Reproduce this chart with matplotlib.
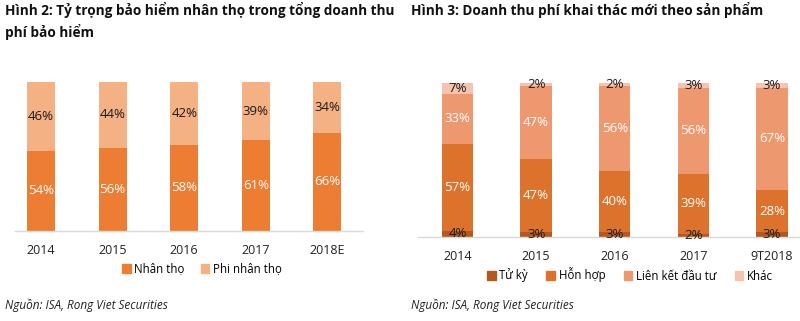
import matplotlib
matplotlib.use("Agg")
import matplotlib.pyplot as plt
from matplotlib.patches import Patch

plt.rcParams['font.family'] = ['Open Sans', 'DejaVu Sans']

# Hinh 2 data
years2 = ['2014', '2015', '2016', '2017', '2018E']
nhan_tho = [54, 56, 58, 61, 66]
phi_nhan_tho = [46, 44, 42, 39, 34]

# Hinh 3 data
years3 = ['2014', '2015', '2016', '2017', '9T2018']
tu_ky = [4, 3, 3, 2, 3]
hon_hop = [57, 47, 40, 39, 28]
lien_ket = [33, 47, 56, 56, 67]
khac = [7, 2, 2, 3, 3]

W, H = 800, 321
fig = plt.figure(figsize=(8, 3.21), dpi=100)

def px_axes(x0, x1, ybase, ytop):
    return fig.add_axes([x0 / W, 1 - ybase / H, (x1 - x0) / W, (ybase - ytop) / H])

def style(ax, xlim):
    ax.set_xlim(*xlim)
    ax.set_ylim(0, 100)
    for s in ['top', 'right', 'left']:
        ax.spines[s].set_visible(False)
    ax.spines['bottom'].set_color('#d9d9d9')
    ax.spines['bottom'].set_linewidth(1)
    ax.set_yticks([])
    ax.tick_params(axis='x', length=0, pad=9, labelsize=9, colors='#222222')

# stacks are drawn as shares of their own total so every bar reaches the top
def shares(series):
    tot = [sum(v) for v in zip(*series)]
    return [[100 * v / t for v, t in zip(vals, tot)] for vals in series]

def label_stack(ax, x, series, heights, colors):
    bottom = [0] * len(x)
    for vals, hs, c in zip(series, heights, colors):
        for i, (v, h) in enumerate(zip(vals, hs)):
            ax.text(x[i], bottom[i] + h / 2, f'{v}%', ha='center', va='center',
                    fontsize=9.5, color=c)
            bottom[i] += h

# ---- left chart
ax1 = px_axes(15, 363, 231, 82)
x1 = list(range(len(years2)))
ax1.bar(x1, nhan_tho, width=0.39, color='#ec7d32', label='Nhân thọ')
ax1.bar(x1, phi_nhan_tho, width=0.39, bottom=nhan_tho, color='#f4b183', label='Phi nhân thọ')
ax1.set_xticks(x1, years2)
style(ax1, (-0.363, 4.497))
label_stack(ax1, x1, [nhan_tho, phi_nhan_tho], [nhan_tho, phi_nhan_tho], ['white', '#1a1a1a'])

# ---- right chart
ax2 = px_axes(418, 800, 237, 83)
x2 = list(range(len(years3)))
cols3 = ['#b5581f', '#dc722b', '#ee9870', '#f6c3ae']
names3 = ['Tử kỳ', 'Hỗn hợp', 'Liên kết đầu tư', 'Khác']
raw3 = [tu_ky, hon_hop, lien_ket, khac]
hts3 = shares(raw3)
bottom = [0] * len(x2)
for hs, c, n in zip(hts3, cols3, names3):
    ax2.bar(x2, hs, width=0.40, bottom=bottom, color=c, label=n)
    bottom = [b + h for b, h in zip(bottom, hs)]
ax2.set_xticks(x2, years3)
style(ax2, (-0.503, 4.357))
label_stack(ax2, x2, raw3, hts3, ['#1a1a1a', 'white', 'white', '#1a1a1a'])

# ---- titles
fig.text(5 / W, 1 - 2 / H, 'Hình 2: Tỷ trọng bảo hiểm nhân thọ trong tổng doanh thu\nphí bảo hiểm',
         ha='left', va='top', fontsize=9.8, fontweight='bold', color='#111111', linespacing=1.45)
fig.text(411 / W, 1 - 2 / H, 'Hình 3: Doanh thu phí khai thác mới theo sản phẩm',
         ha='left', va='top', fontsize=9.8, fontweight='bold', color='#111111')

# ---- legends
h1 = [Patch(color='#ec7d32'), Patch(color='#f4b183')]
fig.legend(h1, ['Nhân thọ', 'Phi nhân thọ'], loc='center', bbox_to_anchor=(202 / W, 1 - 269 / H),
           ncol=2, frameon=False, fontsize=8.3, handlelength=0.75, handleheight=0.75,
           handletextpad=0.3, columnspacing=1.4)
h2 = [Patch(color=c) for c in cols3]
fig.legend(h2, names3, loc='center', bbox_to_anchor=(630 / W, 1 - 275 / H),
           ncol=4, frameon=False, fontsize=8.3, handlelength=0.75, handleheight=0.75,
           handletextpad=0.3, columnspacing=1.6)

# ---- sources
fig.text(5 / W, 1 - 305 / H, 'Nguồn: ISA, Rong Viet Securities', ha='left', va='center',
         fontsize=8.5, style='italic', color='#222222')
fig.text(411 / W, 1 - 305 / H, 'Nguồn: ISA, Rong Viet Securities', ha='left', va='center',
         fontsize=8.5, style='italic', color='#222222')

fig.savefig('out.png', dpi=100)
